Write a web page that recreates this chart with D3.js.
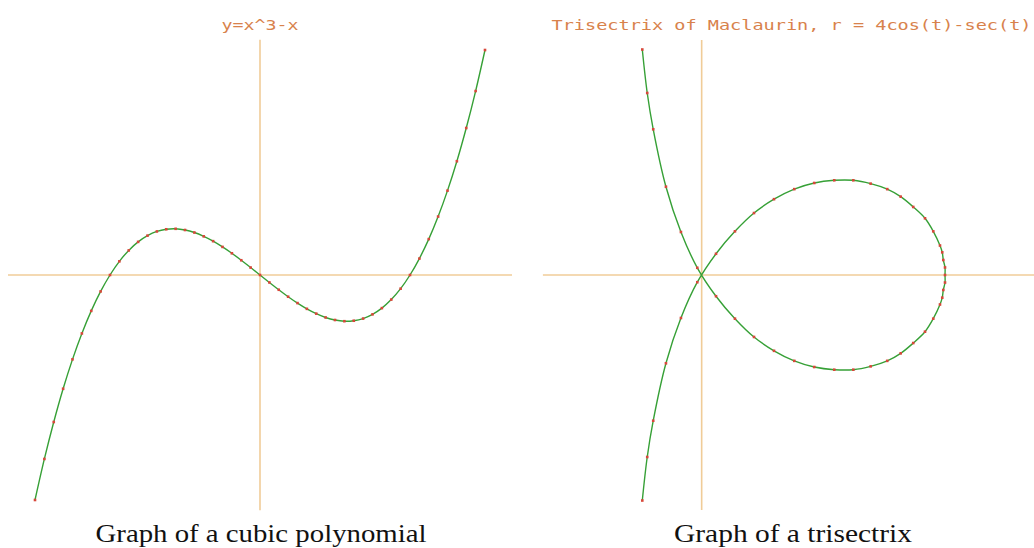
<!DOCTYPE html>
<html lang="en">
<head>
    <meta charset="UTF-8">
    <title>Cubic and trisectrix</title>
    <script src="https://d3js.org/d3.v7.min.js"></script>
    <style>
        body { margin: 0; background: #fff; }
        #chart { width: 1034px; height: 548px; }
    </style>
</head>
<body>
    <div id="chart"></div>
    <script>
        const cubicX = [-1.5, -1.4375, -1.375, -1.3125, -1.25, -1.1875, -1.125, -1.0625, -1,
            -0.9375, -0.875, -0.8125, -0.75, -0.6875, -0.625, -0.5625, -0.5, -0.4375, -0.375,
            -0.3125, -0.25, -0.1875, -0.125, -0.0625, 0, 0.0625, 0.125, 0.1875, 0.25, 0.3125,
            0.375, 0.4375, 0.5, 0.5625, 0.625, 0.6875, 0.75, 0.8125, 0.875, 0.9375, 1, 1.0625,
            1.125, 1.1875, 1.25, 1.3125, 1.375, 1.4375, 1.5];
        const cubicY = [-1.875, -1.533, -1.225, -0.948, -0.703, -0.487, -0.299, -0.137, 0,
            0.114, 0.205, 0.276, 0.328, 0.363, 0.381, 0.385, 0.375, 0.354, 0.322,
            0.282, 0.234, 0.181, 0.123, 0.062, 0, -0.062, -0.123, -0.181, -0.234, -0.282,
            -0.322, -0.354, -0.375, -0.385, -0.381, -0.363, -0.328, -0.276, -0.205, -0.114, 0, 0.137,
            0.299, 0.487, 0.703, 0.948, 1.225, 1.533, 1.875];

        const trisX = [-0.733, -0.672, -0.598, -0.441, -0.256, -0.054,
            0.177, 0.411, 0.646, 0.893, 1.143, 1.390, 1.637, 1.872, 2.086, 2.291, 2.457, 2.612,
            2.757, 2.859, 2.942, 2.970, 2.983, 3.004, 3.004, 3.004, 2.983, 2.970, 2.942, 2.859,
            2.757, 2.612, 2.457, 2.291, 2.086, 1.872, 1.637, 1.390, 1.143, 0.893, 0.646, 0.411, 0.177,
            -0.054, -0.256, -0.441, -0.598, -0.672, -0.733];
        const trisY = [2.784, 2.247, 1.799, 1.090, 0.531, 0.089,
            -0.262, -0.539, -0.765, -0.936, -1.060, -1.136, -1.169, -1.169, -1.128, -1.060, -0.967, -0.840,
            -0.700, -0.539, -0.364, -0.280, -0.185, -0.093, 0, 0.093, 0.185, 0.280, 0.364, 0.539,
            0.700, 0.840, 0.967, 1.060, 1.128, 1.169, 1.169, 1.136, 1.060, 0.936, 0.765, 0.539, 0.262,
            -0.089, -0.531, -1.090, -1.799, -2.247, -2.784];

        // visible axis extents
        const cubicXExtent = [-1.68, 1.68];
        const cubicYExtent = [-1.96, 1.96];
        const trisXExtent = [-1.96, 4.11];
        const trisYExtent = [-2.9, 2.9];

        const titles = ["y=x^3-x", "Trisectrix of Maclaurin, r = 4cos(t)-sec(t)"];
        const captions = ["Graph of a cubic polynomial", "Graph of a trisectrix"];

        const width = 1034;
        const height = 548;

        const panels = [
            {
                xs: cubicX, ys: cubicY, xExt: cubicXExtent, yExt: cubicYExtent,
                xRange: [8, 512], yRange: [510.2, 39.8],
                title: titles[0], titleX: 221.5, titleLen: 77,
                caption: captions[0], capX: 95.5, capLen: 331
            },
            {
                xs: trisX, ys: trisY, xExt: trisXExtent, yExt: trisYExtent,
                xRange: [542.9, 1034.6], yRange: [509.9, 40.1],
                title: titles[1], titleX: 551.5, titleLen: 480,
                caption: captions[1], capX: 674, capLen: 238
            }
        ];

        const svg = d3.select("#chart")
            .append("svg")
            .attr("width", width)
            .attr("height", height);

        panels.forEach(p => {
            const x = d3.scaleLinear().domain(p.xExt).range(p.xRange);
            const y = d3.scaleLinear().domain(p.yExt).range(p.yRange);
            const g = svg.append("g");
            const pts = p.xs.map((v, i) => [v, p.ys[i]]);

            // axes
            g.append("line")
                .attr("x1", x(p.xExt[0])).attr("x2", x(p.xExt[1]))
                .attr("y1", y(0)).attr("y2", y(0))
                .attr("stroke", "#f0cc98")
                .attr("stroke-width", 1.6);
            g.append("line")
                .attr("x1", x(0)).attr("x2", x(0))
                .attr("y1", y(p.yExt[0])).attr("y2", y(p.yExt[1]))
                .attr("stroke", "#f0cc98")
                .attr("stroke-width", 1.6);

            // curve
            const line = d3.line()
                .x(d => x(d[0]))
                .y(d => y(d[1]))
                .curve(d3.curveCatmullRom.alpha(0.5));

            g.append("path")
                .datum(pts)
                .attr("d", line)
                .attr("fill", "none")
                .attr("stroke", "#36a036")
                .attr("stroke-width", 1.4);

            // sample dots
            g.selectAll(".dot")
                .data(pts)
                .join("rect")
                .attr("x", d => x(d[0]) - 1.3)
                .attr("y", d => y(d[1]) - 1.3)
                .attr("width", 2.6)
                .attr("height", 2.6)
                .attr("fill", "#d8473a");

            // title
            g.append("text")
                .attr("x", p.titleX)
                .attr("y", 29.5)
                .attr("textLength", p.titleLen)
                .attr("lengthAdjust", "spacingAndGlyphs")
                .attr("font-family", "DejaVu Sans Mono, monospace")
                .attr("font-size", "14px")
                .attr("fill", "#d8824c")
                .text(p.title);

            // caption
            g.append("text")
                .attr("x", p.capX)
                .attr("y", 541.5)
                .attr("textLength", p.capLen)
                .attr("lengthAdjust", "spacingAndGlyphs")
                .attr("font-family", "Liberation Serif, serif")
                .attr("font-size", "25px")
                .attr("fill", "#111")
                .text(p.caption);
        });
    </script>
</body>
</html>
